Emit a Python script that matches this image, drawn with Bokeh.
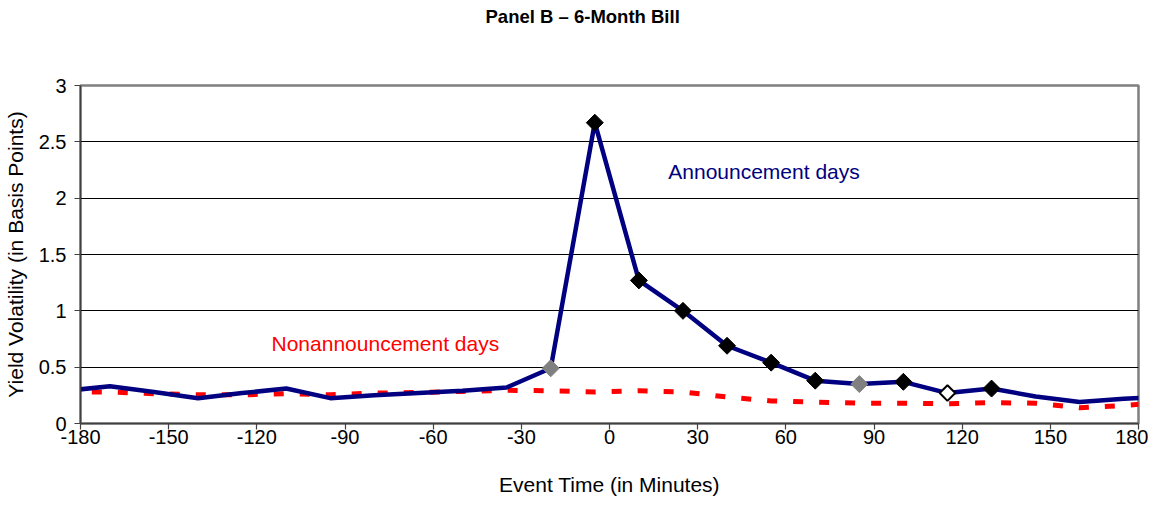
import numpy as np
from bokeh.plotting import figure
from bokeh.models import FixedTicker, Label, Range1d, ColumnDataSource, LinearAxis
from bokeh.embed import file_html
from bokeh.resources import INLINE

# ---- data ----
event_time = [-185, -170, -155, -140, -125, -110, -95, -80, -65, -50, -35, -20, -5,
              10, 25, 40, 55, 70, 85, 100, 115, 130, 145, 160, 175, 190]
announcement = [0.29, 0.33, 0.28, 0.225, 0.27, 0.31, 0.225, 0.25, 0.27, 0.29, 0.32, 0.49, 2.67,
                1.27, 1.00, 0.69, 0.54, 0.38, 0.35, 0.37, 0.27, 0.31, 0.24, 0.19, 0.22, 0.24]
nonannouncement = [0.28, 0.28, 0.265, 0.255, 0.255, 0.265, 0.255, 0.27, 0.275, 0.285, 0.295, 0.29, 0.28,
                   0.29, 0.28, 0.235, 0.20, 0.19, 0.18, 0.18, 0.175, 0.185, 0.18, 0.14, 0.16, 0.19]
# significance marker for each announcement-day point
significance = ["", "", "", "", "", "", "", "", "", "", "", "gray", "black",
                "black", "black", "black", "black", "black", "gray", "black", "open", "black", "", "", "", ""]
x_ticks = [-180, -150, -120, -90, -60, -30, 0, 30, 60, 90, 120, 150, 180]
x_tick_labels = ["-180", "-150", "-120", "-90", "-60", "-30", "0", "30", "60", "90", "120", "150", "180"]
y_ticks = [0, 0.5, 1, 1.5, 2, 2.5, 3]
y_tick_labels = ["0", "0.5", "1", "1.5", "2", "2.5", "3"]

FONT = "Liberation Sans"

p = figure(width=1148, height=498, output_backend="svg", toolbar_location=None,
           x_range=Range1d(-180, 180), y_range=Range1d(0, 3),
           min_border_left=80, min_border_right=10, min_border_top=84, min_border_bottom=75,
           title="Panel B \u2013 6-Month Bill")

p.title.text_font = FONT
p.title.text_font_size = "18.5px"
p.title.text_font_style = "bold"
p.title.text_color = "black"
p.title.align = "left"
p.title.offset = 405
p.title.vertical_align = "top"
p.title.standoff = 10

# invisible spacer between the title and the plot frame
spacer = LinearAxis(ticker=FixedTicker(ticks=[0]), axis_line_color=None, major_tick_line_color=None,
                    minor_tick_line_color=None, major_tick_in=0, major_tick_out=52,
                    major_label_standoff=0, axis_label_standoff=0,
                    major_label_text_font_size="0px", major_label_text_alpha=0,
                    major_label_overrides={0: ""})
p.add_layout(spacer, "above")

p.background_fill_color = "white"
p.border_fill_color = "white"
p.outline_line_color = "#808080"
p.outline_line_width = 2.5

# axes
xax = p.below[0]
yax = p.left[0]
xax.ticker = FixedTicker(ticks=x_ticks)
yax.ticker = FixedTicker(ticks=y_ticks)
xax.major_label_overrides = {t: s for t, s in zip(x_ticks, x_tick_labels)}
yax.major_label_overrides = {t: s for t, s in zip(y_ticks, y_tick_labels)}
for ax in (xax, yax):
    ax.axis_line_color = "#404040"
    ax.axis_line_width = 1.5
    ax.major_tick_line_color = "#404040"
    ax.major_tick_line_width = 1.2
    ax.major_tick_in = 0
    ax.major_tick_out = 6
    ax.minor_tick_line_color = None
    ax.major_label_text_font = FONT
    ax.major_label_text_font_size = "20px"
    ax.major_label_text_color = "black"
    ax.axis_label_text_font = FONT
    ax.axis_label_text_font_size = "21px"
    ax.axis_label_text_font_style = "normal"
    ax.axis_label_text_color = "black"

xax.axis_label = "Event Time (in Minutes)"
xax.major_label_standoff = 0
xax.axis_label_standoff = 26
yax.axis_label = "Yield Volatility (in Basis Points)"
yax.major_label_standoff = 8
yax.axis_label_standoff = 9

p.xgrid.grid_line_color = None
p.ygrid.ticker = FixedTicker(ticks=[0.5, 1, 1.5, 2, 2.5])
p.ygrid.grid_line_color = "black"
p.ygrid.grid_line_width = 1

src = ColumnDataSource(dict(t=event_time, a=announcement, n=nonannouncement, s=significance))

p.line("t", "n", source=src, line_color="#FF0000", line_width=5, line_dash="10 16")
p.line("t", "a", source=src, line_color="#000080", line_width=4.5)

def subset(kind):
    idx = [i for i, s in enumerate(significance) if s == kind]
    return dict(t=[event_time[i] for i in idx], a=[announcement[i] for i in idx])

p.scatter("t", "a", source=ColumnDataSource(subset("black")), marker="square", angle=np.pi / 4,
          size=12, fill_color="black", line_color="black", line_width=1)
p.scatter("t", "a", source=ColumnDataSource(subset("gray")), marker="square", angle=np.pi / 4,
          size=12, fill_color="#808080", line_color="#808080", line_width=1)
p.scatter("t", "a", source=ColumnDataSource(subset("open")), marker="square", angle=np.pi / 4,
          size=11, fill_color="white", line_color="black", line_width=2)

p.add_layout(Label(x=20, y=2.24, text="Announcement days", text_font=FONT, text_font_size="21px",
                   text_color="#000080", text_baseline="middle", text_align="left"))
p.add_layout(Label(x=-115, y=0.71, text="Nonannouncement days", text_font=FONT, text_font_size="21px",
                   text_color="#FF0000", text_baseline="middle", text_align="left"))

open("out.html", "w").write(file_html(p, INLINE))
